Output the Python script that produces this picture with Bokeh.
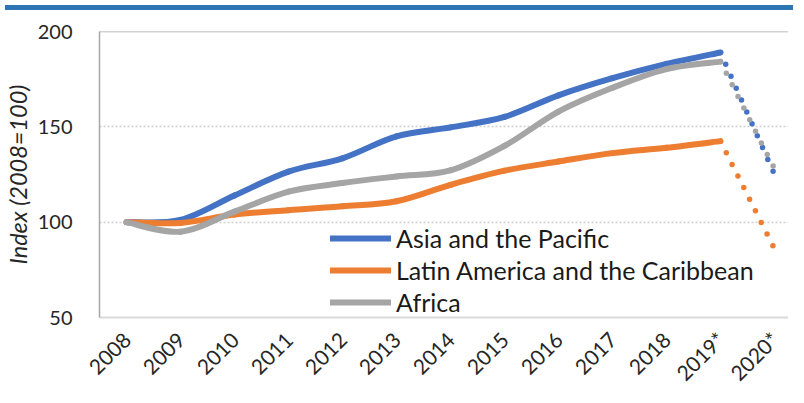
from bokeh.plotting import figure
from bokeh.models import (Range1d, FixedTicker, Span, Legend, LegendItem, Div)
from bokeh.layouts import column
from bokeh.embed import file_html
from bokeh.resources import INLINE
import math

# ---- data ----
years = ["2008", "2009", "2010", "2011", "2012", "2013", "2014", "2015",
         "2016", "2017", "2018", "2019*", "2020*"]
asia = [100, 101.2, 114, 126.5, 133.5, 145, 149.7, 155.2, 166.5, 175.5, 183, 189, 125]
latam = [100, 99.6, 104, 106.3, 108.3, 111, 119.6, 127, 131.8, 136.2, 139, 142.5, 86]
africa = [100, 95, 105.5, 116, 120.5, 124, 127.2, 140, 158, 170.5, 180.3, 184.2, 128]
series_names = ["Asia and the Pacific", "Latin America and the Caribbean", "Africa"]
y_ticks = [50, 100, 150, 200]

colors = ["#4472C4", "#ED7D31", "#A5A5A5"]
FONT = "Lato"
FRAME_BLUE = "#2E75B6"

xs = list(range(len(years)))


def smooth(xv, yv):
    n = len(xv)
    d = dict(x0=[], y0=[], x1=[], y1=[], cx0=[], cy0=[], cx1=[], cy1=[])
    for i in range(n - 1):
        pm = i - 1 if i > 0 else i
        pp = i + 2 if i + 2 < n else i + 1
        d["x0"].append(xv[i]); d["y0"].append(yv[i])
        d["x1"].append(xv[i + 1]); d["y1"].append(yv[i + 1])
        d["cx0"].append(xv[i] + (xv[i + 1] - xv[pm]) / 6)
        d["cy0"].append(yv[i] + (yv[i + 1] - yv[pm]) / 6)
        d["cx1"].append(xv[i + 1] - (xv[pp] - xv[i]) / 6)
        d["cy1"].append(yv[i + 1] - (yv[pp] - yv[i]) / 6)
    return d


p = figure(width=788, height=382, output_backend="svg", toolbar_location=None,
           x_range=Range1d(-0.5, 12.26), y_range=Range1d(50, 200),
           min_border_left=99, min_border_top=16, min_border_bottom=80,
           min_border_right=0)
p.outline_line_color = None
p.background_fill_color = "white"
p.border_fill_color = "white"

# axes
p.yaxis.ticker = FixedTicker(ticks=y_ticks)
p.xaxis.ticker = FixedTicker(ticks=xs)
p.xaxis.major_label_overrides = {i: y for i, y in enumerate(years)}
for ax in (p.xaxis[0], p.yaxis[0]):
    ax.major_tick_line_color = None
    ax.minor_tick_line_color = None
    ax.major_label_text_font = FONT
    ax.major_label_text_color = "#262626"
p.yaxis.axis_line_color = "#A6A6A6"
p.yaxis.axis_line_width = 1.5
p.xaxis.axis_line_color = "#D9D9D9"
p.xaxis.axis_line_width = 2
p.yaxis.major_label_text_font_size = "20px"
p.yaxis.major_label_standoff = 21
p.xaxis.major_label_text_font_size = "21px"
p.xaxis.major_label_orientation = math.pi / 4
p.xaxis.major_label_standoff = 12
p.yaxis.axis_label = "Index (2008=100)"
p.yaxis.axis_label_text_font = FONT
p.yaxis.axis_label_text_font_style = "italic"
p.yaxis.axis_label_text_font_size = "23.5px"
p.yaxis.axis_label_text_color = "#262626"
p.yaxis.axis_label_standoff = 3

p.xgrid.grid_line_color = None
p.ygrid.ticker = FixedTicker(ticks=[100, 150])
p.ygrid.grid_line_color = "#CFCFCF"
p.ygrid.grid_line_dash = "2 2"
p.ygrid.grid_line_width = 1.5

p.add_layout(Span(location=200, dimension="width", line_color="#A6A6A6", line_width=1.5))

items = []
for name, vals, c in zip(series_names, [asia, latam, africa], colors):
    solid = smooth(xs[:-1], vals[:-1])
    r = p.bezier(x0="x0", y0="y0", x1="x1", y1="y1", cx0="cx0", cy0="cy0",
                 cx1="cx1", cy1="cy1", source=solid, line_color=c, line_width=6,
                 line_cap="round", line_join="round")
    p.line(xs[-2:], vals[-2:], line_color=c, line_width=5.5, line_dash="0 13",
           line_cap="round")
    items.append(LegendItem(label=name, renderers=[r]))

legend = Legend(items=items, location=(231, 0), orientation="vertical",
                glyph_width=61, glyph_height=30, label_height=30, spacing=2,
                padding=0, margin=0, label_standoff=5,
                label_text_font=FONT, label_text_font_size="25px",
                label_text_color="#1a1a1a",
                border_line_color=None, background_fill_alpha=0)
p.add_layout(legend)

band = Div(width=788, height=5, styles={"background-color": FRAME_BLUE})
layout = column(band, p, spacing=0)

open("out.html", "w").write(file_html(layout, INLINE))
